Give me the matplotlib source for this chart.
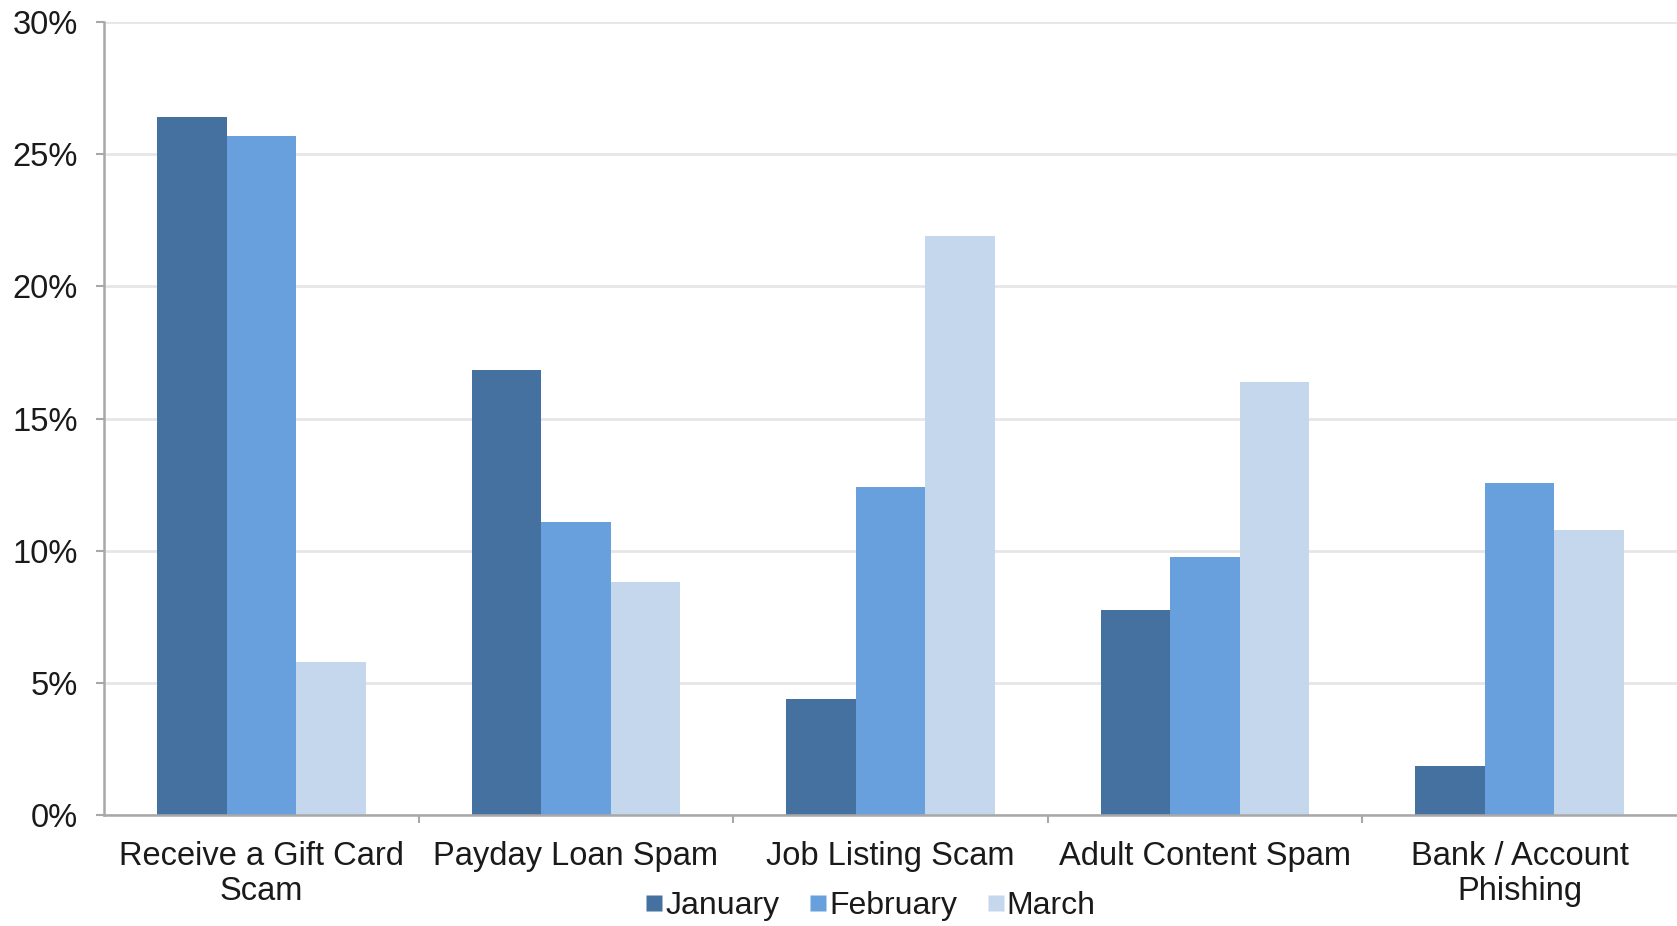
import numpy as np
import matplotlib
matplotlib.use("Agg")
import matplotlib.pyplot as plt
from matplotlib.lines import Line2D
from matplotlib.ticker import FuncFormatter, FixedLocator

categories = ["Receive a Gift Card\nScam", "Payday Loan Spam", "Job Listing Scam",
              "Adult Content Spam", "Bank / Account\nPhishing"]
months = ["January", "February", "March"]
january = [26.4, 16.85, 4.4, 7.75, 1.85]
february = [25.7, 11.1, 12.4, 9.75, 12.55]
march = [5.8, 8.8, 21.9, 16.4, 10.8]
colors = ["#44719F", "#67A0DC", "#C5D7EC"]

plt.rcParams['font.family'] = ['Liberation Sans', 'DejaVu Sans']

fig = plt.figure(figsize=(16.77, 9.26), dpi=100)
ax = fig.add_axes([0.062, 0.1199, 0.938, 0.8563])

x = np.arange(len(categories))
width = 0.221
for i, (vals, col) in enumerate(zip([january, february, march], colors)):
    ax.bar(x + (i - 1) * width, vals, width, color=col, zorder=3,
           edgecolor="none")

ax.set_xlim(-0.5, len(categories) - 0.5)
ax.set_ylim(0, 30)
ax.set_yticks(np.arange(0, 31, 5))
ax.yaxis.set_major_formatter(FuncFormatter(lambda v, p: f"{int(v)}%"))
ax.grid(axis="y", color="#E6E6E6", linewidth=2, zorder=0)

ax.set_xticks(x)
ax.set_xticklabels(categories, linespacing=1.15)
ax.xaxis.set_minor_locator(FixedLocator(np.arange(0.5, len(categories) - 1, 1.0)))
ax.tick_params(axis="x", which="major", length=0, pad=19, labelsize=23.5,
               labelcolor="#1A1A1A")
ax.tick_params(axis="x", which="minor", length=6, width=1.5, color="#A8A8A8",
               direction="out")
ax.tick_params(axis="y", length=6, width=1.5, color="#A8A8A8", pad=13,
               labelsize=23.5, labelcolor="#1A1A1A")

for s in ["top", "right"]:
    ax.spines[s].set_visible(False)
for s in ["left", "bottom"]:
    ax.spines[s].set_color("#A8A8A8")
    ax.spines[s].set_linewidth(1.8)
    ax.spines[s].set_zorder(4)

# legend sits just under the category labels
handles = [Line2D([], [], marker="s", linestyle="none", markersize=11,
                  markerfacecolor=c, markeredgecolor="none") for c in colors]
fig.legend(handles, months, loc="lower center", bbox_to_anchor=(0.519, -0.019),
           ncol=3, frameon=False, fontsize=23, handletextpad=0.05,
           columnspacing=0.9, handlelength=0.6, labelcolor="#1A1A1A",
           borderpad=0.2)

fig.savefig("out.png", dpi=100)
